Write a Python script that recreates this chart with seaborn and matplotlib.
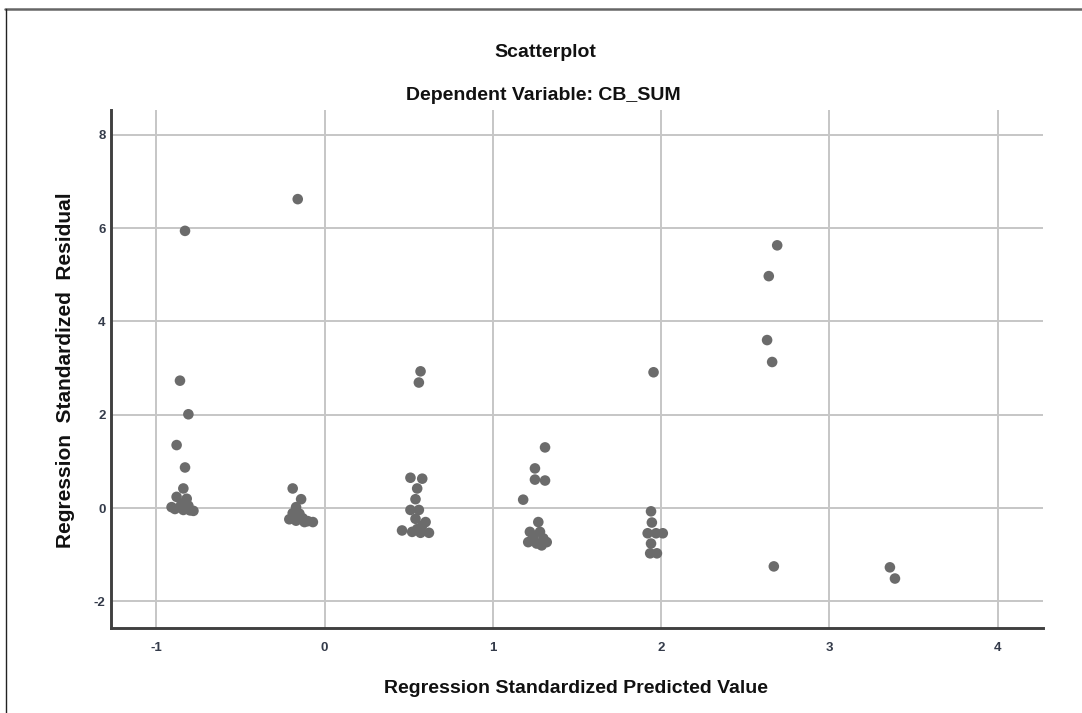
import matplotlib
matplotlib.use("Agg")
import matplotlib.pyplot as plt
from matplotlib import font_manager
from matplotlib.lines import Line2D
import seaborn as sns
import pandas as pd

# ---- data ----
pred_values = [
    -0.83, -0.86, -0.81, -0.88, -0.83, -0.84, -0.88, -0.82, -0.91, -0.86, -0.80, -0.84, -0.78, -0.89, -0.85, -0.81,
    -0.16, -0.19, -0.14, -0.17, -0.19, -0.15, -0.21, -0.17, -0.13, -0.10, -0.07, -0.12, -0.16,
    0.57, 0.56, 0.51, 0.58, 0.55, 0.54, 0.51, 0.56, 0.54, 0.60, 0.58, 0.46, 0.52, 0.57, 0.62, 0.55,
    1.31, 1.25, 1.25, 1.31, 1.18, 1.27, 1.22, 1.28, 1.21, 1.26, 1.32, 1.29, 1.24, 1.30,
    1.955, 1.94, 1.945, 1.92, 1.97, 2.01, 1.94, 1.935, 1.975,
    2.69, 2.64, 2.63, 2.66, 2.67,
    3.36, 3.39,
]
resid_values = [
    5.94, 2.73, 2.01, 1.35, 0.87, 0.42, 0.24, 0.20, 0.02, 0.02, -0.05, -0.04, -0.06, -0.02, 0.10, 0.05,
    6.62, 0.42, 0.19, 0.02, -0.11, -0.12, -0.24, -0.27, -0.22, -0.28, -0.30, -0.30, -0.20,
    2.93, 2.69, 0.65, 0.63, 0.42, 0.19, -0.04, -0.04, -0.23, -0.30, -0.37, -0.48, -0.51, -0.53, -0.53, -0.45,
    1.30, 0.85, 0.61, 0.59, 0.18, -0.30, -0.51, -0.51, -0.73, -0.76, -0.73, -0.80, -0.62, -0.65,
    2.91, -0.07, -0.31, -0.54, -0.54, -0.54, -0.76, -0.97, -0.97,
    5.63, 4.97, 3.60, 3.13, -1.25,
    -1.27, -1.51,
]
x_ticks = [-1, 0, 1, 2, 3, 4]
y_ticks = [-2, 0, 2, 4, 6, 8]
title_text = "Scatterplot"
subtitle_text = "Dependent Variable: CB_SUM"
x_label = "Regression Standardized Predicted Value"
y_label = "Regression  Standardized  Residual"

df = pd.DataFrame({"pred": pred_values, "resid": resid_values})

sns.set_theme(style="white")


def pick_font(cands):
    for c in cands:
        try:
            font_manager.findfont(c, fallback_to_default=False)
            return c
        except Exception:
            continue
    return "DejaVu Sans"


FONT = pick_font(["Liberation Sans Narrow", "Liberation Sans", "DejaVu Sans"])
plt.rcParams["font.family"] = [FONT, "DejaVu Sans"]

fig = plt.figure(figsize=(10.82, 7.13), dpi=100)
ax = fig.add_axes([111 / 1082, 1 - 628 / 713, (1043 - 111) / 1082, (628 - 110) / 713])

sns.scatterplot(data=df, x="pred", y="resid", ax=ax, color="#6b6b6b",
                s=58, edgecolor="none", linewidth=0, zorder=3)

ax.set_xlim(-1.27, 4.27)
ax.set_ylim(-2.57, 8.53)
ax.set_xticks(x_ticks)
ax.set_yticks(y_ticks)
ax.set_xticklabels([str(v) for v in x_ticks])
ax.set_yticklabels([str(v) for v in y_ticks])
ax.grid(True, color="#c6c6c6", linewidth=1.4, zorder=0)
ax.set_axisbelow(True)
ax.tick_params(axis="x", length=0, labelsize=9.5, colors="#343b4a", pad=10)
ax.tick_params(axis="y", length=0, labelsize=9.5, colors="#343b4a", pad=4)
for lab in ax.get_xticklabels() + ax.get_yticklabels():
    lab.set_fontweight("bold")

for side in ["top", "right"]:
    ax.spines[side].set_visible(False)
for side in ["left", "bottom"]:
    ax.spines[side].set_color("#404040")
    ax.spines[side].set_linewidth(2.1)

ax.set_xlabel("")
ax.set_ylabel("")

fig.text(576 / 1082, 1 - 693 / 713, x_label, ha="center", va="baseline",
         fontsize=14, fontweight="bold", color="#111111")
fig.text(66 / 1082, 1 - 370 / 713, y_label, ha="center", va="center",
         rotation=90, fontsize=15, fontweight="bold", color="#111111")
fig.text(545 / 1082, 1 - 57 / 713, title_text, ha="center", va="baseline",
         fontsize=14, fontweight="bold", color="#111111")
fig.text(543 / 1082, 1 - 100 / 713, subtitle_text, ha="center", va="baseline",
         fontsize=14, fontweight="bold", color="#111111")

# outer frame of the output box (top and left edges)
fig.add_artist(Line2D([5 / 1082, 1.0], [1 - 9 / 713, 1 - 9 / 713],
                      transform=fig.transFigure, color="#666666", linewidth=1.8))
fig.add_artist(Line2D([6 / 1082, 6 / 1082], [0.0, 1 - 9 / 713],
                      transform=fig.transFigure, color="#222222", linewidth=1.0))

fig.savefig("out.png", dpi=100)
